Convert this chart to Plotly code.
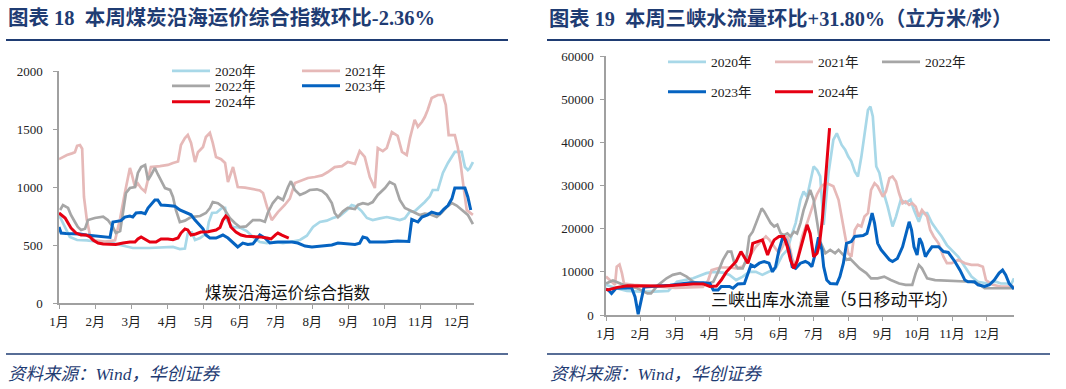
import plotly.graph_objects as go

# ---------------- data ----------------
months = ["1月", "2月", "3月", "4月", "5月", "6月", "7月", "8月", "9月", "10月", "11月", "12月"]
month_pos = [0, 1, 2, 3, 4, 5, 6, 7, 8, 9, 10, 11]
years = ["2020年", "2021年", "2022年", "2023年", "2024年"]

# Coal coastal freight index (x in months since Jan 1)
coal_x_2020 = [0, 0.3, 0.5, 0.77, 1.13, 1.4, 1.69, 2.04, 2.5, 2.98, 3.15, 3.34, 3.48, 3.56, 3.67, 3.76, 3.9, 4.09, 4.14, 4.23,
               4.36, 4.5, 4.59, 4.64, 4.72, 4.81, 5.0, 5.19, 5.36, 5.55, 5.75, 5.97, 6.19, 6.38, 6.66, 6.85, 7.02, 7.21, 7.4, 7.57,
               7.76, 7.96, 8.09, 8.23, 8.37, 8.51, 8.67, 8.87, 9.06, 9.23, 9.42, 9.56, 9.7, 9.83, 9.97, 10.11, 10.25, 10.33, 10.47, 10.61,
               10.75, 10.86, 10.94, 11.13, 11.22, 11.3, 11.35, 11.44]
coal_2020 = [759, 569, 543, 540, 526, 526, 500, 474, 474, 483, 483, 465, 470, 603, 610, 543, 560, 603, 698, 776,
             780, 819, 820, 715, 680, 655, 650, 620, 569, 526, 517, 526, 517, 526, 543, 580, 655, 698, 710, 733,
             750, 802, 845, 830, 790, 733, 715, 730, 741, 730, 715, 730, 790, 790, 828, 871, 920, 974, 974, 1121,
             1207, 1259, 1302, 1302, 1172, 1146, 1160, 1215]

coal_x_2021 = [0, 0.11, 0.22, 0.36, 0.44, 0.5, 0.58, 0.64, 0.69, 0.77, 0.86, 0.99, 1.27, 1.55, 1.69, 1.82, 1.96, 2.02, 2.1, 2.18,
               2.27, 2.38, 2.46, 2.54, 2.79, 3.01, 3.15, 3.29, 3.37, 3.48, 3.56, 3.65, 3.76, 3.84, 3.98, 4.06, 4.17, 4.25, 4.34, 4.48,
               4.59, 4.67, 4.81, 4.94, 5.14, 5.36, 5.55, 5.64, 5.75, 5.88, 6.05, 6.24, 6.38, 6.52, 6.71, 6.88, 7.07, 7.27, 7.43, 7.62,
               7.82, 7.98, 8.18, 8.31, 8.45, 8.59, 8.73, 8.81, 8.95, 9.06, 9.2, 9.28, 9.36, 9.48, 9.61, 9.7, 9.83, 9.92, 10.03, 10.11,
               10.19, 10.3, 10.47, 10.61, 10.69, 10.77, 10.94, 11.02, 11.1, 11.19, 11.27, 11.44]
coal_2021 = [1240, 1259, 1276, 1290, 1300, 1355, 1362, 1330, 914, 715, 580, 540, 530, 540, 730, 948, 1164, 1100, 1000, 1030,
             990, 960, 1080, 1172, 1180, 1190, 1207, 1220, 1362, 1422, 1448, 1380, 1215, 1300, 1345, 1431, 1466, 1380, 1259, 1240,
             1207, 1043, 1172, 1000, 995, 985, 970, 948, 828, 715, 784, 845, 900, 1034, 1060, 1078, 1086, 1100, 1129, 1172,
             1180, 1215, 1200, 1310, 1259, 1086, 991, 1336, 1310, 1336, 1474, 1460, 1440, 1302, 1276, 1420, 1580, 1520, 1560, 1603,
             1664, 1767, 1793, 1793, 1707, 1448, 1448, 1345, 1200, 980, 800, 760]

coal_x_2022 = [0.03, 0.11, 0.25, 0.33, 0.44, 0.52, 0.61, 0.72, 0.8, 0.99, 1.22, 1.35, 1.49, 1.57, 1.69, 1.77, 1.85, 1.96, 2.1, 2.18,
               2.27, 2.38, 2.46, 2.54, 2.65, 2.73, 2.82, 2.93, 3.07, 3.15, 3.23, 3.34, 3.48, 3.65, 3.9, 4.06, 4.17, 4.25, 4.39, 4.53,
               4.61, 4.72, 4.86, 5.0, 5.17, 5.36, 5.55, 5.69, 5.77, 5.91, 6.05, 6.19, 6.33, 6.41, 6.52, 6.66, 6.8, 6.93, 7.13, 7.27,
               7.4, 7.54, 7.62, 7.71, 7.85, 7.98, 8.18, 8.26, 8.4, 8.54, 8.67, 8.81, 9.01, 9.14, 9.28, 9.42, 9.56, 9.7, 9.83, 9.97,
               10.11, 10.25, 10.44, 10.58, 10.72, 10.86, 10.99, 11.13, 11.3, 11.44]
coal_2022 = [802, 845, 820, 759, 698, 655, 629, 640, 715, 733, 745, 715, 655, 603, 620, 776, 948, 991, 1000, 1121,
             1172, 1190, 1060, 1100, 1164, 1110, 1060, 991, 975, 914, 802, 698, 710, 741, 750, 776, 819, 871, 860, 828,
             790, 733, 690, 655, 660, 715, 715, 700, 776, 862, 914, 888, 1000, 1050, 974, 931, 950, 974, 980, 965,
             931, 862, 776, 741, 790, 819, 810, 845, 860, 850, 870, 931, 991, 1043, 1020, 888, 819, 800, 776, 759,
             770, 765, 741, 780, 828, 862, 840, 802, 760, 680]

coal_x_2023 = [0, 0.06, 0.19, 0.39, 0.58, 0.75, 0.94, 1.13, 1.3, 1.41, 1.49, 1.63, 1.71, 1.82, 1.96, 2.04, 2.13, 2.27, 2.38, 2.46,
               2.54, 2.65, 2.73, 2.82, 3.01, 3.2, 3.34, 3.51, 3.65, 3.76, 3.9, 3.98, 4.06, 4.17, 4.34, 4.53, 4.67, 4.81, 4.94, 5.08,
               5.22, 5.36, 5.44, 5.55, 5.69, 5.83, 6.05, 6.44, 6.6, 6.8, 6.99, 7.27, 7.54, 7.71, 7.9, 8.18, 8.31, 8.4, 8.51, 8.59,
               9.01, 9.36, 9.67, 9.75, 9.92, 10.03, 10.19, 10.3, 10.44, 10.52, 10.64, 10.75, 10.86, 10.94, 11.22, 11.3, 11.38]
coal_2023 = [655, 603, 600, 600, 595, 586, 580, 577, 569, 565, 698, 705, 710, 741, 750, 741, 776, 780, 770, 819,
             845, 888, 888, 845, 840, 835, 802, 776, 760, 715, 672, 640, 586, 560, 560, 586, 560, 517, 483, 517,
             505, 510, 543, 586, 560, 517, 525, 525, 517, 491, 483, 490, 500, 517, 510, 505, 515, 569, 560, 526,
             526, 534, 530, 720, 698, 741, 760, 784, 770, 770, 810, 840, 900, 991, 991, 914, 802]

coal_x_2024 = [0, 0.06, 0.17, 0.25, 0.33, 0.47, 0.61, 0.75, 0.86, 0.94, 1.08, 1.22, 1.41, 1.57, 1.77, 1.96, 2.1, 2.18, 2.27, 2.38,
               2.51, 2.68, 2.82, 3.01, 3.15, 3.29, 3.37, 3.48, 3.56, 3.65, 3.78, 3.92, 4.12, 4.34, 4.45, 4.53, 4.61, 4.67, 4.75, 4.89,
               5.03, 5.17, 5.36, 5.55, 5.75, 5.86, 5.99, 6.05, 6.16, 6.27, 6.35]
coal_2024 = [776, 760, 733, 690, 647, 603, 586, 586, 569, 543, 517, 509, 505, 505, 517, 526, 526, 552, 569, 552,
             526, 526, 552, 552, 545, 560, 603, 638, 630, 586, 595, 612, 615, 629, 650, 715, 750, 730, 655, 612,
             586, 575, 575, 570, 560, 552, 590, 603, 585, 569, 560]

# Three Gorges outflow, 5-day moving average (x in months since Jan 1)
flow_x_2020 = [0, 0.3, 0.6, 1.0, 1.4, 1.8, 2.05, 2.52, 2.9, 3.1, 3.38, 3.57, 3.76, 3.95, 4.14, 4.33, 4.52, 4.71, 4.9, 5.1,
               5.24, 5.38, 5.48, 5.62, 5.71, 5.81, 5.9, 6.0, 6.1, 6.19, 6.29, 6.43, 6.57, 6.67, 6.81, 6.91, 7.0, 7.09, 7.19, 7.28,
               7.38, 7.47, 7.57, 7.64, 7.71, 7.81, 7.9, 8.0, 8.14, 8.28, 8.38, 8.52, 8.66, 8.8, 8.9, 9.04, 9.13, 9.28, 9.42, 9.56,
               9.7, 9.85, 9.99, 10.18, 10.37, 10.56, 10.75, 11.03, 11.27, 11.41, 11.6, 11.7, 11.79]
flow_2020 = [7000, 6200, 5600, 5400, 5400, 5600, 7700, 8500, 9700, 10000, 9800, 9300, 8100, 8900, 10000, 10000, 9300, 10000, 10800, 13900,
             15100, 18900, 21300, 26700, 28600, 27400, 30500, 34400, 33600, 32100, 20900, 32900, 40600, 42100, 39400, 38300, 36700, 35600, 33200, 32100,
             36700, 42100, 47500, 48300, 46000, 34400, 32900, 29000, 25100, 20500, 22800, 26700, 25900, 26700, 24300, 21600, 23600, 23600, 21300, 19700,
             18200, 16200, 15100, 13500, 11200, 8900, 7700, 7300, 7700, 7300, 7300, 7000, 8500]

flow_x_2021 = [0, 0.16, 0.26, 0.31, 0.39, 0.46, 0.52, 0.8, 1.2, 1.6, 2.0, 2.4, 2.8, 2.95, 3.05, 3.3, 3.57, 3.76, 3.95, 4.14,
               4.33, 4.52, 4.62, 4.72, 4.86, 5.0, 5.1, 5.24, 5.38, 5.48, 5.57, 5.67, 5.81, 5.9, 6.0, 6.1, 6.24, 6.38, 6.57, 6.72,
               6.81, 6.91, 7.0, 7.09, 7.19, 7.28, 7.38, 7.47, 7.57, 7.66, 7.76, 7.85, 8.0, 8.09, 8.19, 8.28, 8.38, 8.47, 8.57, 8.66,
               8.76, 8.85, 8.95, 9.04, 9.13, 9.28, 9.37, 9.47, 9.61, 9.75, 9.85, 9.99, 10.18, 10.37, 10.56, 10.75, 10.89, 10.98, 11.17, 11.41,
               11.79]
flow_2021 = [8900, 7800, 7000, 11200, 11700, 9700, 7300, 7000, 6800, 6500, 6300, 6400, 6500, 8000, 10400, 11000, 11000, 10800, 11200, 13500,
             15800, 17400, 18200, 17400, 15800, 14300, 15800, 18200, 13100, 11200, 14300, 18200, 21300, 23600, 25900, 28000, 30000, 30500, 29800, 26700,
             22800, 18200, 14300, 13500, 19700, 20900, 20500, 22800, 23600, 29000, 30500, 29800, 27400, 28600, 31700, 32100, 30900, 28200, 25900, 26300,
             25500, 25900, 25100, 22800, 24300, 22800, 19700, 18200, 16600, 13500, 12000, 12000, 12800, 12000, 11600, 11600, 11200, 8100, 7000, 6600,
             6600]

flow_x_2022 = [0, 0.2, 0.5, 0.9, 1.2, 1.3, 1.5, 1.75, 1.93, 2.14, 2.33, 2.52, 2.71, 2.9, 3.1, 3.24, 3.38, 3.52, 3.62, 3.71,
               3.81, 3.95, 4.05, 4.14, 4.24, 4.33, 4.43, 4.5, 4.57, 4.67, 4.76, 4.86, 4.95, 5.05, 5.14, 5.24, 5.33, 5.43, 5.52, 5.62,
               5.71, 5.81, 5.9, 6.0, 6.1, 6.19, 6.34, 6.48, 6.62, 6.72, 6.86, 6.95, 7.05, 7.19, 7.33, 7.52, 7.66, 7.85, 8.04, 8.23,
               8.47, 8.66, 8.85, 8.95, 9.04, 9.13, 9.28, 9.51, 9.8, 10.18, 10.56, 10.75, 10.94, 11.32, 11.79]
flow_2022 = [7300, 8000, 7000, 6200, 5000, 5000, 6900, 8500, 9300, 9700, 8900, 7700, 7300, 7200, 7700, 10000, 12800, 14700, 14700, 12000,
             10800, 10800, 12800, 18200, 19300, 21300, 23600, 24700, 24000, 22400, 21300, 20500, 20900, 18900, 18500, 18900, 18200, 19300, 18900, 21300,
             24300, 26700, 29000, 26700, 21000, 17000, 14300, 15100, 14300, 15100, 13900, 12800, 13100, 12000, 10800, 9700, 8500, 8500, 8900, 8100,
             7300, 7000, 7000, 9700, 11600, 10800, 8500, 8100, 8000, 8000, 7700, 7300, 6200, 6200, 6200]

flow_x_2023 = [0, 0.07, 0.16, 0.29, 0.74, 0.84, 0.93, 1.03, 1.1, 1.85, 2.43, 2.81, 3.0, 3.1, 3.24, 3.33, 3.57, 3.67, 3.81, 4.0,
               4.1, 4.19, 4.29, 4.43, 4.57, 4.71, 4.81, 4.9, 5.0, 5.1, 5.19, 5.29, 5.38, 5.48, 5.62, 5.76, 5.86, 5.95, 6.05, 6.14,
               6.24, 6.29, 6.38, 6.48, 6.67, 6.76, 6.86, 6.95, 7.09, 7.19, 7.43, 7.54, 7.62, 7.69, 7.76, 7.85, 7.95, 8.04, 8.19, 8.28,
               8.42, 8.57, 8.66, 8.76, 8.83, 8.9, 8.99, 9.06, 9.13, 9.23, 9.32, 9.42, 9.61, 9.75, 9.89, 9.99, 10.08, 10.23, 10.37, 10.46,
               10.65, 10.75, 10.94, 11.08, 11.22, 11.36, 11.46, 11.55, 11.65, 11.79]
flow_2023 = [6000, 5800, 5000, 6200, 6300, 4200, 200, 4200, 6500, 6900, 7500, 7500, 7300, 5800, 5800, 6600, 6600, 6200, 7200, 7300,
             9700, 11600, 11200, 12000, 12400, 12000, 10000, 11200, 15100, 17800, 17400, 15100, 11200, 10800, 12000, 12400, 12000, 11200, 14300, 18000,
             15100, 11200, 8100, 7300, 7200, 8900, 12000, 16600, 17000, 18200, 18400, 18900, 21300, 23600, 21300, 16600, 15100, 14300, 12800, 12400,
             13100, 15800, 18900, 21600, 19700, 15800, 13900, 17800, 16600, 13500, 14700, 15800, 15800, 14700, 14500, 13500, 12400, 10400, 8100, 7700,
             7700, 7000, 6600, 7000, 8100, 9700, 10400, 9300, 7300, 6000]

flow_x_2024 = [0, 0.05, 0.33, 0.62, 1.67, 2.05, 2.52, 2.81, 3.0, 3.19, 3.33, 3.48, 3.62, 3.76, 3.9, 4.0, 4.1, 4.19, 4.24, 4.38,
               4.52, 4.67, 4.76, 4.86, 5.0, 5.14, 5.24, 5.33, 5.43, 5.52, 5.62, 5.71, 5.81, 5.9, 6.0, 6.1, 6.17, 6.25, 6.33, 6.4,
               6.46]
flow_2024 = [6000, 5800, 6400, 6800, 6700, 7000, 7200, 7200, 6600, 6700, 8100, 10000, 11200, 12400, 14700, 13500, 12000, 14300, 16600, 17000,
             17400, 13900, 15800, 17400, 18200, 18200, 15800, 12800, 10800, 12400, 15500, 18200, 20900, 18900, 13500, 14300, 16500, 22000, 30000, 37500,
             43300]

coal_ticks = [0, 500, 1000, 1500, 2000]
flow_ticks = [0, 10000, 20000, 30000, 40000, 50000, 60000]

title_left = "图表 18  本周煤炭沿海运价综合指数环比-2.36%"
title_right = "图表 19  本周三峡水流量环比+31.80%（立方米/秒）"
label_left = "煤炭沿海运价综合指数"
label_right = "三峡出库水流量（5日移动平均）"
source_text = "资料来源：Wind，华创证券"

# ---------------- styling ----------------
colors = ["#A8D8E8", "#E6B9B8", "#A6A6A6", "#0563C1", "#E60012"]
widths = [2.7, 2.7, 2.7, 3.0, 3.0]
W, H = 1066, 389
NAVY = "#1F3C73"
AX = "#A0A0A0"
SERIF = "Liberation Serif, Noto Sans CJK SC"
CJK = "Noto Sans CJK SC"


def fx(p):
    return p / W


def fy(p):
    return 1 - p / H


coal_x = [coal_x_2020, coal_x_2021, coal_x_2022, coal_x_2023, coal_x_2024]
coal_y = [coal_2020, coal_2021, coal_2022, coal_2023, coal_2024]
flow_x = [flow_x_2020, flow_x_2021, flow_x_2022, flow_x_2023, flow_x_2024]
flow_y = [flow_2020, flow_2021, flow_2022, flow_2023, flow_2024]

left_legends = ["legend", "legend", "legend2", "legend2", "legend3"]
right_legends = ["legend4", "legend4", "legend4", "legend5", "legend5"]

fig = go.Figure()
for i in range(5):
    fig.add_trace(go.Scatter(x=coal_x[i], y=coal_y[i], mode="lines", name=years[i],
                             line=dict(color=colors[i], width=widths[i]),
                             xaxis="x", yaxis="y", legend=left_legends[i], hoverinfo="skip"))
for i in range(5):
    fig.add_trace(go.Scatter(x=flow_x[i], y=flow_y[i], mode="lines", name=years[i],
                             line=dict(color=colors[i], width=widths[i]),
                             xaxis="x2", yaxis="y2", legend=right_legends[i], hoverinfo="skip"))

axis_style = dict(showline=True, linecolor=AX, linewidth=1.5, ticks="outside", ticklen=4,
                  tickwidth=1, tickcolor=AX, showgrid=False, zeroline=False,
                  tickfont=dict(family=SERIF, size=13, color="#222222"))

leg_common = dict(orientation="h", bgcolor="rgba(0,0,0,0)", borderwidth=0,
                  font=dict(family=SERIF, size=13.5, color="#222222"),
                  itemwidth=38, entrywidthmode="pixels", xanchor="left", yanchor="middle",
                  itemclick=False, itemdoubleclick=False)

fig.update_layout(
    width=W, height=H, autosize=False,
    margin=dict(l=0, r=0, t=0, b=0, pad=0, autoexpand=False),
    paper_bgcolor="white", plot_bgcolor="white",
    xaxis=dict(domain=[fx(59), fx(474)], range=[0, 11.47], tickvals=month_pos, ticktext=months,
               anchor="y", ticklabelstandoff=2, **axis_style),
    yaxis=dict(domain=[fy(303), fy(71)], range=[0, 2000], tickvals=coal_ticks, tickformat="d",
               anchor="x", ticklabelstandoff=8, **axis_style),
    xaxis2=dict(domain=[fx(606), fx(1014)], range=[0, 11.79], tickvals=month_pos, ticktext=months,
                anchor="y2", ticklabelstandoff=2, **axis_style),
    yaxis2=dict(domain=[fy(315), fy(56)], range=[0, 60000], tickvals=flow_ticks, tickformat="d",
                anchor="x2", ticklabelstandoff=4, **axis_style),
    legend=dict(x=fx(167), y=fy(71), entrywidth=77, **leg_common),
    legend2=dict(x=fx(167), y=fy(86), entrywidth=77, **leg_common),
    legend3=dict(x=fx(167), y=fy(102), entrywidth=77, **leg_common),
    legend4=dict(x=fx(663), y=fy(62), entrywidth=54, **leg_common),
    legend5=dict(x=fx(663), y=fy(92), entrywidth=54, **leg_common),
    showlegend=True,
)

shapes = []
for x0, x1 in [(6, 508), (547, 1050)]:
    shapes.append(dict(type="line", xref="paper", yref="paper", x0=fx(x0), x1=fx(x1), y0=fy(40), y1=fy(40),
                       line=dict(color=NAVY, width=2)))
    shapes.append(dict(type="line", xref="paper", yref="paper", x0=fx(x0), x1=fx(x1), y0=fy(354), y1=fy(354),
                       line=dict(color=NAVY, width=1.5)))
fig.update_layout(shapes=shapes)

annotations = [
    dict(text="<b>" + title_left + "</b>", x=fx(6), y=fy(18), xref="paper", yref="paper",
         xanchor="left", yanchor="middle", showarrow=False, font=dict(family=SERIF, size=20.5, color=NAVY)),
    dict(text="<b>" + title_right + "</b>", x=fx(547), y=fy(18), xref="paper", yref="paper",
         xanchor="left", yanchor="middle", showarrow=False, font=dict(family=SERIF, size=20.3, color=NAVY)),
    dict(text="<i>" + source_text + "</i>", x=fx(6), y=fy(374), xref="paper", yref="paper",
         xanchor="left", yanchor="middle", showarrow=False, font=dict(family=SERIF, size=17.5, color=NAVY)),
    dict(text="<i>" + source_text + "</i>", x=fx(548), y=fy(374), xref="paper", yref="paper",
         xanchor="left", yanchor="middle", showarrow=False, font=dict(family=SERIF, size=17.5, color=NAVY)),
    dict(text=label_left, x=fx(288), y=fy(292), xref="paper", yref="paper",
         xanchor="center", yanchor="middle", showarrow=False, font=dict(family=CJK, size=16.5, color="#111111")),
    dict(text=label_right, x=fx(834), y=fy(298), xref="paper", yref="paper",
         xanchor="center", yanchor="middle", showarrow=False, font=dict(family=CJK, size=17, color="#111111")),
]
fig.update_layout(annotations=annotations)

fig.write_html("out.html", config={"displayModeBar": False},
               post_script="document.body.style.margin='0px';")
